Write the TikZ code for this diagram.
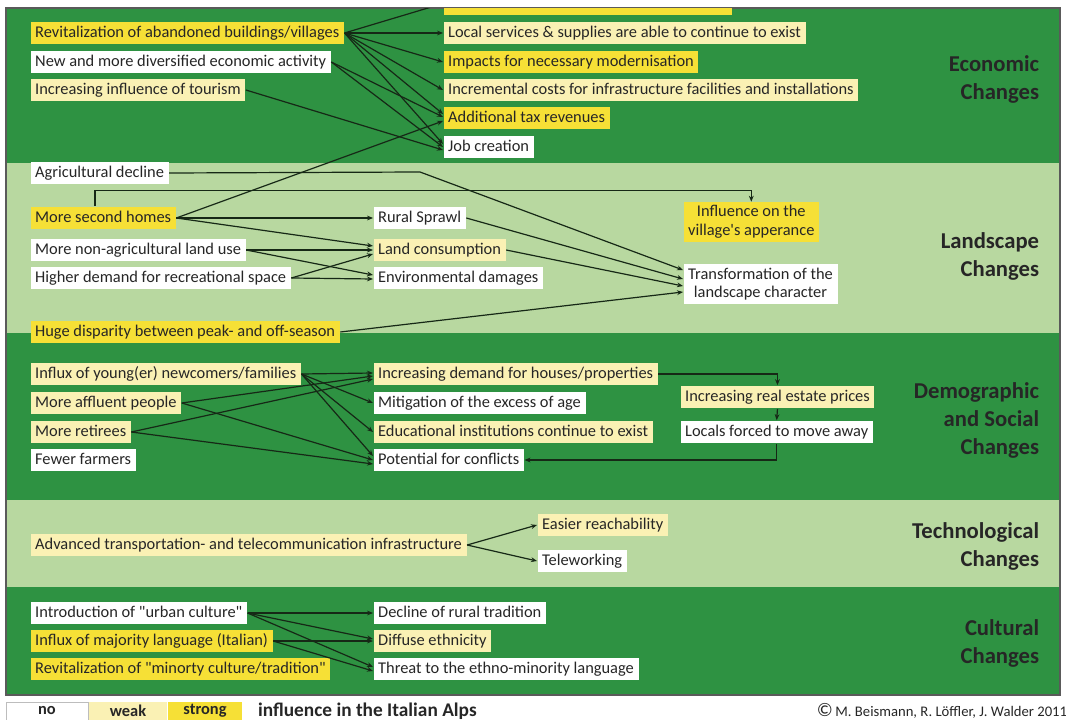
\documentclass[tikz,border=0pt]{standalone}
\usepackage{fontspec}
\setmainfont{Carlito}
\newfontfamily\carl{Carlito}
\usetikzlibrary{arrows.meta,calc,positioning}

\definecolor{darkband}{RGB}{46,146,66}
\definecolor{lightband}{RGB}{184,216,160}
\definecolor{strongyel}{RGB}{246,224,54}
\definecolor{weakyel}{RGB}{250,241,180}
\definecolor{textgray}{RGB}{38,38,38}
\definecolor{linecol}{RGB}{22,40,22}
\definecolor{framegray}{RGB}{90,90,90}

\tikzset{every picture/.style={line width=0.75pt}}
\tikzset{
	cbase/.style={anchor=west, inner xsep=3.5pt, text=textgray, font=\carl\fontsize{12.3}{14}\selectfont},
	cbox/.style={cbase, inner ysep=0pt, minimum height=17pt, text height=9pt, text depth=2.8pt},
	nobox/.style={cbox, fill=white},
	weakbox/.style={cbox, fill=weakyel},
	strongbox/.style={cbox, fill=strongyel},
	twoline/.style={cbase, align=center, inner ysep=2.5pt},
	arr/.style={draw=linecol, line width=0.9pt, -{Stealth[length=4.5pt,width=3.6pt]}},
	bandlabel/.style={anchor=east, align=right, text=textgray, font=\carl\fontsize{17}{21}\selectfont\bfseries},
	legbox/.style={minimum height=13.5pt, inner sep=0pt, text=textgray, font=\carl\fontsize{12.3}{14}\selectfont\bfseries}}

\begin{document}
\begin{tikzpicture}[x=0.75pt,y=0.75pt,yscale=-1,xscale=1]
	\useasboundingbox (0,0) rectangle (1066,720);

	%Shape: Rectangle [bands]
	\fill[darkband] (6,8) rectangle (1060,163);
	\fill[lightband] (6,163) rectangle (1060,333);
	\fill[darkband] (6,333) rectangle (1060,500);
	\fill[lightband] (6,500) rectangle (1060,587);
	\fill[darkband] (6,587) rectangle (1060,695);
	\draw[framegray, line width=1pt] (6,8) rectangle (1060,695);

	% Text Node
	\node[bandlabel] (lbleco) at (1044,79) {Economic\\Changes};
	% Text Node
	\node[bandlabel] (lbllan) at (1044,256) {Landscape\\Changes};
	% Text Node
	\node[bandlabel] (lbldem) at (1044,420) {Demographic\\and Social\\Changes};
	% Text Node
	\node[bandlabel] (lbltec) at (1044,546) {Technological\\Changes};
	% Text Node
	\node[bandlabel] (lblcul) at (1044,643) {Cultural\\Changes};

	%Economic changes
	\node[strongbox] (rev) at (30,33) {Revitalization of abandoned buildings/villages};
	\node[nobox] (newact) at (30,62) {New and more diversified economic activity};
	\node[weakbox] (tour) at (30,90) {Increasing influence of tourism};
	\node[weakbox] (local) at (443,33) {Local services \& supplies are able to continue to exist};
	\node[strongbox] (impact) at (443,62) {Impacts for necessary modernisation};
	\node[weakbox] (incr) at (443,90) {Incremental costs for infrastructure facilities and installations};
	\node[strongbox] (tax) at (443,118) {Additional tax revenues};
	\node[nobox] (job) at (443,147) {Job creation};
	\begin{scope}
		\clip (6,8.5) rectangle (1060,695);
		\node[strongbox, minimum width=216pt] (topbox) at (443,3.5) {};
		\draw[arr] (rev.east) -- (topbox.west);
	\end{scope}

	%Landscape changes
	\node[nobox] (agri) at (30,173) {Agricultural decline};
	\node[strongbox] (homes) at (30,218) {More second homes};
	\node[nobox] (nonagri) at (30,250) {More non-agricultural land use};
	\node[nobox] (recr) at (30,278) {Higher demand for recreational space};
	\node[strongbox] (peak) at (30,332) {Huge disparity between peak- and off-season};
	\node[nobox] (sprawl) at (373,218) {Rural Sprawl};
	\node[weakbox] (landc) at (373,250) {Land consumption};
	\node[nobox] (envdam) at (373,278) {Environmental damages};
	\node[twoline, fill=strongyel] (infl) at (683,222) {Influence on the\\village's apperance};
	\node[twoline, fill=white] (trans) at (683,284) {Transformation of the\\landscape character};

	%Demographic and social changes
	\node[weakbox] (influx) at (30,374) {Influx of young(er) newcomers/families};
	\node[weakbox] (afflu) at (30,403) {More affluent people};
	\node[weakbox] (retir) at (30,432) {More retirees};
	\node[nobox] (farm) at (30,460) {Fewer farmers};
	\node[weakbox] (houses) at (373,374) {Increasing demand for houses/properties};
	\node[nobox] (mitig) at (373,403) {Mitigation of the excess of age};
	\node[weakbox] (educ) at (373,432) {Educational institutions continue to exist};
	\node[nobox] (confl) at (373,460) {Potential for conflicts};
	\node[weakbox] (realest) at (680,397) {Increasing real estate prices};
	\node[nobox] (locals) at (680,432) {Locals forced to move away};

	%Technological changes
	\node[weakbox] (adv) at (30,545) {Advanced transportation- and telecommunication infrastructure};
	\node[weakbox] (easy) at (537,525) {Easier reachability};
	\node[nobox] (telew) at (537,561) {Teleworking};

	%Cultural changes
	\node[nobox] (intro) at (30,613) {Introduction of "urban culture"};
	\node[strongbox] (major) at (30,641) {Influx of majority language (Italian)};
	\node[strongbox] (minor) at (30,669) {Revitalization of "minorty culture/tradition"};
	\node[nobox] (decl) at (373,613) {Decline of rural tradition};
	\node[weakbox] (diff) at (373,641) {Diffuse ethnicity};
	\node[nobox] (threat) at (373,669) {Threat to the ethno-minority language};

	%Straight Lines [economic]
	\draw[arr] (rev.east) -- (local.west);
	\draw[arr] (rev.east) -- (impact.west);
	\draw[arr] (rev.east) -- (incr.west);
	\draw[arr] (rev.east) -- ($(tax.west)+(0,-4)$);
	\draw[arr] (rev.east) -- ($(job.west)+(0,-3)$);
	\draw[arr] (newact.east) -- ($(tax.west)+(0,-1)$);
	\draw[arr] (newact.east) -- (job.west);
	\draw[arr] (tour.east) -- ($(job.west)+(0,3)$);
	\draw[arr] (homes.east) -- ($(tax.west)+(0,3)$);

	%Straight Lines [landscape]
	\draw[arr] (agri.east) -- (420,172) -- ($(trans.west)+(0,-14)$);
	\draw[arr] ($(homes.north west)+(65,0)$) -- ++(0,-16) -| (infl.north);
	\draw[arr] (homes.east) -- (sprawl.west);
	\draw[arr] (homes.east) -- ($(landc.west)+(0,-4)$);
	\draw[arr] (nonagri.east) -- (landc.west);
	\draw[arr] (nonagri.east) -- ($(envdam.west)+(0,-3)$);
	\draw[arr] (recr.east) -- ($(landc.west)+(0,4)$);
	\draw[arr] (recr.east) -- ($(envdam.west)+(0,1)$);
	\draw[arr] (sprawl.east) -- ($(trans.west)+(0,-5)$);
	\draw[arr] (landc.east) -- ($(trans.west)+(0,2)$);
	\draw[arr] (peak.east) -- ($(trans.west)+(0,8)$);

	%Straight Lines [demographic]
	\draw[arr] (influx.east) -- ($(houses.west)+(0,-1)$);
	\draw[arr] (influx.east) -- (mitig.west);
	\draw[arr] (influx.east) -- (educ.west);
	\draw[arr] (influx.east) -- ($(confl.west)+(0,-4)$);
	\draw[arr] (afflu.east) -- ($(houses.west)+(0,2)$);
	\draw[arr] (afflu.east) -- ($(confl.west)+(0,0)$);
	\draw[arr] (retir.east) -- ($(houses.west)+(0,5)$);
	\draw[arr] (retir.east) -- ($(confl.west)+(0,4)$);
	\draw[arr] (houses.east) -| (realest.north);
	\draw[arr] (realest.south) -- (locals.north);
	\draw[arr] (locals.south) |- (confl.east);

	%Straight Lines [technological]
	\draw[arr] (adv.east) -- (easy.west);
	\draw[arr] (adv.east) -- (telew.west);

	%Straight Lines [cultural]
	\draw[arr] (intro.east) -- (decl.west);
	\draw[arr] (intro.east) -- ($(diff.west)+(0,-2)$);
	\draw[arr] (intro.east) -- ($(threat.west)+(0,-2)$);
	\draw[arr] (major.east) -- (diff.west);
	\draw[arr] (major.east) -- ($(threat.west)+(0,2)$);

	%Legend
	\node[legbox, fill=white, draw=framegray!40, minimum width=61.5pt] (lgno) at (47,711) {no};
	\node[legbox, fill=weakyel, minimum width=58.5pt, right=0pt of lgno] (lgweak) {weak};
	\node[legbox, fill=strongyel, minimum width=55.5pt, right=0pt of lgweak] (lgstrong) {strong};
	% Text Node
	\node[font=\carl\fontsize{14.5}{16}\selectfont\bfseries, text=textgray, right=8pt of lgstrong] (lgtext) {influence in the Italian Alps};
	% Text Node
	\node[anchor=east, text=textgray, font=\carl\fontsize{11}{12}\selectfont] (credit) at (1072,711) {{\Large\textcopyright}\,M. Beismann, R. Löffler, J. Walder 2011};

\end{tikzpicture}
\end{document}
